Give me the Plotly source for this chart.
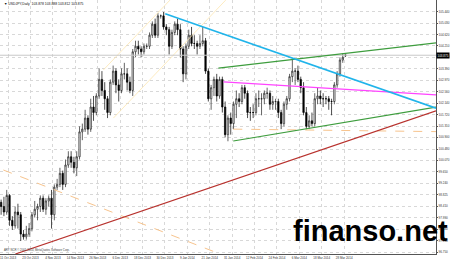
import plotly.graph_objects as go

# ---------------- data ----------------
# bar index 0 = 11 Oct 2013 ... 124 = 3 Apr 2014 (daily bars, weekdays)
opens = [98.20, 98.55, 98.40, 98.20, 98.80, 97.90, 97.70, 98.20, 98.10, 97.40,
         97.30, 97.40, 97.60, 98.10, 98.30, 98.40, 98.70, 98.30, 98.60, 98.70,
         98.10, 99.10, 99.20, 99.60, 99.20, 99.90, 100.20, 100.00, 99.80, 100.20,
         101.10, 101.20, 101.60, 101.20, 102.00, 101.80, 102.40, 103.00, 102.60, 102.30,
         101.80, 102.90, 103.30, 102.80, 102.60, 103.20, 103.20, 102.90, 102.60, 104.00,
         104.20, 104.10, 104.00, 104.20, 104.20, 104.60, 105.00, 104.60, 105.30, 105.30,
         104.90, 104.80, 104.20, 104.70, 105.00, 104.80, 104.10, 103.20, 104.20, 104.60,
         104.30, 104.30, 104.20, 104.30, 104.40, 103.30, 102.30, 102.70, 103.00, 102.40,
         103.00, 102.00, 101.00, 101.60, 101.40, 102.10, 102.30, 102.20, 102.70, 102.50,
         101.80, 101.80, 101.80, 102.30, 102.30, 102.30, 102.50, 102.50, 102.10, 102.20,
         102.20, 101.80, 101.40, 102.10, 102.30, 103.10, 103.30, 103.30, 103.00, 102.70,
         101.80, 101.30, 101.50, 101.40, 102.30, 102.40, 102.30, 102.30, 102.30, 102.20,
         102.20, 102.80, 103.20, 103.70, 103.878]
highs = [98.75, 98.65, 98.75, 99.00, 98.85, 98.05, 98.40, 98.50, 98.20, 97.55,
         97.70, 97.80, 98.20, 98.60, 98.50, 98.80, 98.80, 98.70, 98.80, 99.00,
         99.20, 99.40, 99.80, 99.70, 100.10, 100.40, 100.40, 100.20, 100.40, 101.30,
         101.40, 101.90, 101.70, 102.30, 102.40, 102.50, 103.40, 103.30, 102.90, 102.40,
         103.00, 103.50, 103.40, 103.00, 103.40, 103.60, 103.40, 103.10, 104.10, 104.40,
         104.40, 104.20, 104.30, 104.30, 104.70, 105.10, 105.20, 105.40, 105.35, 105.44,
         105.00, 104.90, 104.80, 105.10, 105.20, 105.00, 104.20, 104.30, 104.80, 104.90,
         104.60, 104.40, 104.60, 104.90, 104.50, 103.40, 102.80, 103.10, 103.20, 103.10,
         103.10, 102.20, 101.70, 101.80, 102.20, 102.60, 102.50, 102.80, 102.80, 102.60,
         102.00, 102.10, 102.50, 102.60, 102.50, 102.60, 102.70, 102.60, 102.40, 102.30,
         102.30, 101.90, 102.20, 102.40, 103.20, 103.76, 103.40, 103.50, 103.10, 102.90,
         102.00, 101.70, 101.80, 102.50, 102.70, 102.60, 102.50, 102.40, 102.40, 102.30,
         102.90, 103.30, 103.80, 103.95, 103.888]
lows = [98.05, 98.10, 98.05, 98.10, 97.70, 97.55, 97.60, 97.60, 97.15, 97.20,
        97.20, 97.30, 97.50, 98.00, 97.90, 98.20, 98.20, 98.10, 98.40, 97.60,
        97.90, 99.00, 99.10, 99.00, 99.10, 99.80, 99.80, 99.60, 99.50, 100.10,
        100.80, 101.10, 101.00, 101.10, 101.50, 101.70, 102.30, 102.40, 101.90, 101.60,
        101.70, 102.80, 102.50, 102.20, 102.50, 103.00, 102.60, 102.50, 102.40, 103.80,
        103.90, 103.80, 103.90, 104.10, 104.10, 104.50, 104.50, 104.50, 105.20, 104.80,
        104.60, 103.90, 104.10, 104.60, 104.60, 103.80, 102.90, 103.00, 104.10, 104.20,
        104.10, 103.90, 104.10, 104.20, 103.20, 102.20, 101.90, 102.40, 102.20, 102.30,
        101.80, 100.90, 100.76, 101.00, 101.20, 101.60, 102.00, 102.10, 102.30, 101.60,
        101.50, 101.60, 101.70, 102.00, 101.70, 102.10, 102.30, 101.90, 101.90, 101.90,
        101.60, 101.20, 101.30, 101.90, 102.20, 102.90, 102.80, 102.90, 102.50, 101.70,
        101.20, 101.20, 101.30, 101.30, 102.10, 102.10, 102.00, 102.10, 101.90, 101.70,
        102.10, 102.70, 103.10, 103.60, 103.812]
closes = [98.60, 98.40, 98.20, 98.80, 97.90, 97.70, 98.20, 98.10, 97.40, 97.30,
          97.40, 97.60, 98.10, 98.30, 98.40, 98.70, 98.30, 98.60, 98.70, 98.10,
          99.10, 99.20, 99.60, 99.20, 99.90, 100.20, 100.00, 99.80, 100.20, 101.10,
          101.20, 101.60, 101.20, 102.00, 101.80, 102.40, 103.00, 102.60, 102.30, 101.80,
          102.90, 103.30, 102.80, 102.60, 103.20, 103.20, 102.90, 102.60, 104.00, 104.20,
          104.10, 104.00, 104.20, 104.20, 104.60, 105.00, 104.60, 105.30, 105.30, 104.90,
          104.80, 104.20, 104.70, 105.00, 104.80, 104.10, 103.20, 104.20, 104.60, 104.30,
          104.30, 104.20, 104.30, 104.40, 103.30, 102.30, 102.70, 103.00, 102.40, 103.00,
          102.00, 101.00, 101.60, 101.40, 102.10, 102.30, 102.20, 102.70, 102.50, 101.80,
          101.80, 101.80, 102.30, 102.30, 102.30, 102.50, 102.50, 102.10, 102.20, 102.20,
          101.80, 101.40, 102.10, 102.30, 103.10, 103.30, 103.30, 103.00, 102.70, 101.80,
          101.30, 101.50, 101.40, 102.30, 102.40, 102.30, 102.30, 102.30, 102.20, 102.20,
          102.80, 103.20, 103.70, 103.80, 103.875]
bar_index = list(range(len(closes)))

x_tick_bars = [0, 8, 16, 24, 32, 40, 48, 56, 64, 72, 80, 88, 96, 104, 112, 120]
x_tick_labels = ["11 Oct 2013", "23 Oct 2013", "4 Nov 2013", "14 Nov 2013", "26 Nov 2013",
                 "6 Dec 2013", "18 Dec 2013", "30 Dec 2013", "9 Jan 2014", "21 Jan 2014",
                 "31 Jan 2014", "12 Feb 2014", "24 Feb 2014", "6 Mar 2014", "18 Mar 2014",
                 "28 Mar 2014"]
y_tick_values = [105.440, 105.030, 104.620, 104.210, 103.800, 103.390, 102.970, 102.560,
                 102.140, 101.720, 101.310, 100.900, 100.480, 100.070, 99.650, 99.240,
                 98.825, 98.410, 97.990, 97.580, 97.160, 96.750]

# trend lines (bar index, price)
blue_x, blue_y = [59.6, 156.3], [105.38, 101.96]
green_up_x, green_up_y = [78.6, 156.3], [103.41, 104.32]
magenta_x, magenta_y = [80.4, 156.3], [102.91, 102.44]
green_lo_x, green_lo_y = [83.9, 156.3], [100.77, 102.00]
red_x, red_y = [6.1, 156.3], [96.68, 101.86]
orange_h_x, orange_h_y = [83.9, 156.3], [101.20, 101.11]
orange_d_x, orange_d_y = [1.8, 78.2], [99.72, 96.72]
chan_a_x, chan_a_y = [37.5, 61.3], [103.34, 105.87]
chan_b_x, chan_b_y = [41.1, 81.2], [101.60, 105.87]

title_text = "USDJPY,Daily  103.878 103.888 103.812 103.875"
footer_text = "ARY NCR © 2001-2014, MetaQuotes Software Corp."
watermark = "finanso.net"

# ---------------- figure ----------------
fig = go.Figure()

def add_line(xs, ys, color, width, dash="solid"):
    fig.add_trace(go.Scatter(x=xs, y=ys, mode="lines", hoverinfo="skip",
                             line=dict(color=color, width=width, dash=dash)))

# channel lines and dashed lines under candles
add_line(chan_a_x, chan_a_y, "#fde6b0", 0.8)
add_line(chan_b_x, chan_b_y, "#fde6b0", 0.8)
add_line(orange_d_x, orange_d_y, "#f7c48e", 1.0, "dash")
add_line(orange_h_x, orange_h_y, "#f7c48e", 1.0, "dash")

# bid line
fig.add_trace(go.Scatter(x=[-5, 160], y=[closes[-1], closes[-1]], mode="lines",
                         hoverinfo="skip", line=dict(color="#c8c8c8", width=1)))

fig.add_trace(go.Candlestick(
    x=bar_index, open=opens, high=highs, low=lows, close=closes,
    increasing=dict(line=dict(color="#222222", width=0.7), fillcolor="#ffffff"),
    decreasing=dict(line=dict(color="#000000", width=0.7), fillcolor="#000000"),
    whiskerwidth=0, hoverinfo="skip"))

add_line(red_x, red_y, "#b8322e", 1.2)
add_line(green_lo_x, green_lo_y, "#3e9d3e", 1.2)
add_line(green_up_x, green_up_y, "#3e9d3e", 1.2)
add_line(magenta_x, magenta_y, "#ff44ff", 1.2)
add_line(blue_x, blue_y, "#20b4ea", 1.6)

fig.update_layout(
    width=450, height=260,
    margin=dict(l=0, r=14, t=0, b=6),
    paper_bgcolor="white", plot_bgcolor="white",
    showlegend=False,
    xaxis=dict(range=[0.6, 156.3], rangeslider=dict(visible=False),
               tickvals=[b + 3.5 for b in x_tick_bars], ticktext=x_tick_labels,
               tickfont=dict(size=3, color="#333333", family="Liberation Sans"),
               ticks="", ticklen=0,
               showgrid=True, gridcolor="#d8d8d8", griddash="dot", gridwidth=1,
               showline=True, linecolor="#555555", linewidth=1, zeroline=False),
    yaxis=dict(range=[96.68, 105.874], side="right",
               tickvals=y_tick_values, ticktext=[f"{v:.3f}" for v in y_tick_values],
               tickfont=dict(size=3, color="#333333", family="Liberation Sans"),
               ticks="outside", ticklen=1, tickcolor="#555555",
               showgrid=True, gridcolor="#d8d8d8", griddash="dot", gridwidth=1,
               showline=True, linecolor="#555555", linewidth=1, zeroline=False),
)

fig.add_annotation(xref="paper", yref="paper", x=0.005, y=0.985, xanchor="left", yanchor="middle",
                   text="▼ " + title_text, showarrow=False,
                   font=dict(size=3.4, color="#111111", family="Liberation Sans"))
fig.add_annotation(xref="paper", yref="paper", x=0.005, y=0.017, xanchor="left", yanchor="middle",
                   text=footer_text, showarrow=False,
                   font=dict(size=2.8, color="#444444", family="Liberation Sans"))
fig.add_annotation(xref="paper", yref="y", x=1.0, y=closes[-1], xanchor="left", yanchor="middle",
                   text=f"{closes[-1]:.3f}", showarrow=False, bgcolor="#000000", borderpad=0.5,
                   font=dict(size=3, color="#ffffff", family="Liberation Sans"))
fig.add_annotation(xref="paper", yref="paper", x=0.85, y=0.09, xanchor="center", yanchor="middle",
                   text="<b>" + watermark + "</b>", showarrow=False,
                   font=dict(size=29, color="#000000", family="Liberation Sans"))

fig.write_html("out.html")
